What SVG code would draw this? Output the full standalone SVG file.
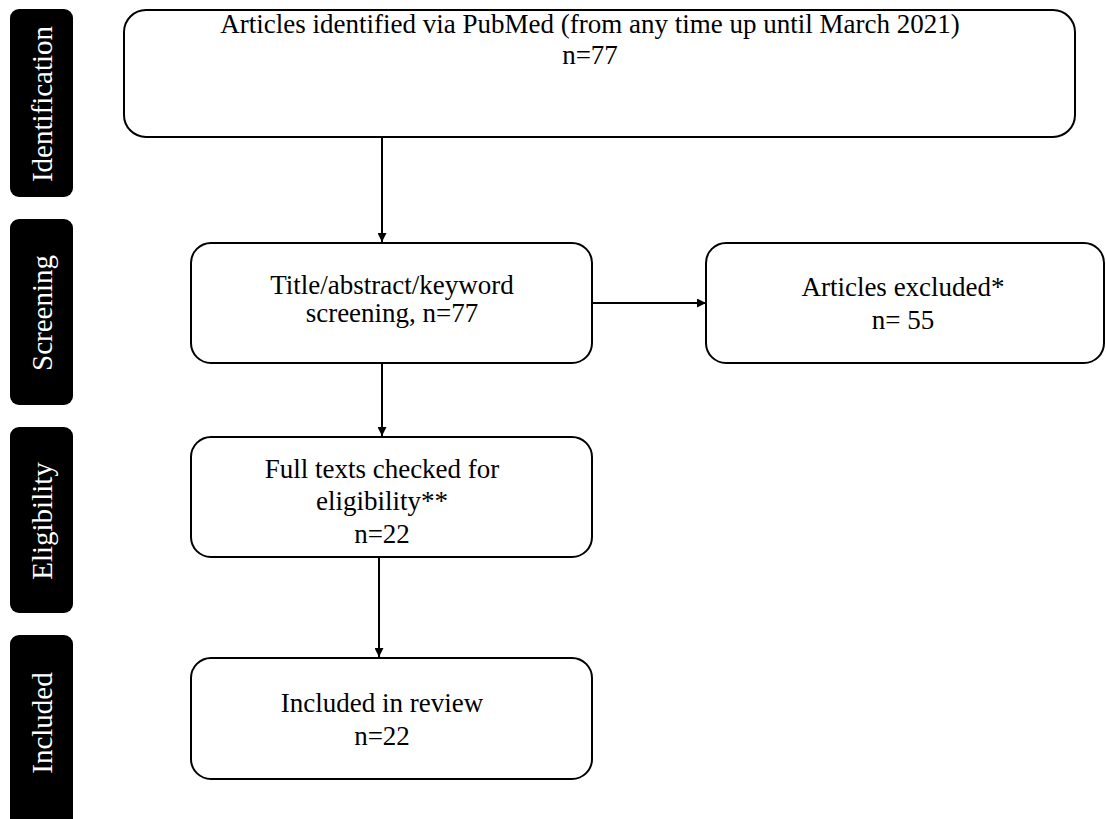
<svg xmlns="http://www.w3.org/2000/svg" width="1106" height="819" viewBox="0 0 1106 819">
<defs>
<marker id="ah" viewBox="0 0 10 10" refX="10" refY="5" markerWidth="10" markerHeight="9" markerUnits="userSpaceOnUse" orient="auto">
<path d="M0,0 L10,5 L0,10 z" fill="#000"/>
</marker>
</defs>
<style>
.box{fill:#fff;stroke:#000;stroke-width:2}
.lab{fill:#000}
.t{font-family:"Liberation Serif","Times New Roman",serif;font-size:27px;fill:#000;text-anchor:middle}
.lt{font-family:"Liberation Serif","Times New Roman",serif;font-size:29px;fill:#fff;text-anchor:middle}
.conn{stroke:#000;stroke-width:2;fill:none;marker-end:url(#ah)}
</style>
<rect width="1106" height="819" fill="#fff"/>
<g id="label-identification">
<rect class="lab" x="10" y="9" width="63" height="188" rx="9"/>
<text class="lt" transform="translate(52,104) rotate(-90)">Identification</text>
</g>
<g id="label-screening">
<rect class="lab" x="10" y="219" width="63" height="186" rx="9"/>
<text class="lt" transform="translate(52,313) rotate(-90)">Screening</text>
</g>
<g id="label-eligibility">
<rect class="lab" x="10" y="427" width="63" height="186" rx="9"/>
<text class="lt" transform="translate(52,521) rotate(-90)">Eligibility</text>
</g>
<g id="label-included">
<rect class="lab" x="10" y="635" width="63" height="200" rx="9"/>
<text class="lt" transform="translate(52,723) rotate(-90)">Included</text>
</g>
<g id="connectors">
<line class="conn" x1="382" y1="138" x2="382" y2="242"/>
<line class="conn" x1="592" y1="303" x2="706" y2="303"/>
<line class="conn" x1="382" y1="364" x2="382" y2="436"/>
<line class="conn" x1="379" y1="558" x2="379" y2="657"/>
</g>
<g id="node-identified">
<rect class="box" x="124" y="10" width="951" height="127" rx="22"/>
<text class="t" x="590" y="33">Articles identified via PubMed (from any time up until March 2021)</text>
<text class="t" x="590" y="64">n=77</text>
</g>
<g id="node-screening">
<rect class="box" x="191" y="243" width="401" height="120" rx="20"/>
<text class="t" x="392" y="294">Title/abstract/keyword</text>
<text class="t" x="392" y="322">screening, n=77</text>
</g>
<g id="node-excluded">
<rect class="box" x="706" y="243" width="398" height="120" rx="20"/>
<text class="t" x="903" y="296">Articles excluded*</text>
<text class="t" x="903" y="329">n= 55</text>
</g>
<g id="node-eligibility">
<rect class="box" x="191" y="437" width="401" height="120" rx="20"/>
<text class="t" x="382" y="478">Full texts checked for</text>
<text class="t" x="382" y="510">eligibility**</text>
<text class="t" x="382" y="543">n=22</text>
</g>
<g id="node-included">
<rect class="box" x="191" y="658" width="401" height="121" rx="20"/>
<text class="t" x="382" y="712">Included in review</text>
<text class="t" x="382" y="745">n=22</text>
</g>
</svg>
